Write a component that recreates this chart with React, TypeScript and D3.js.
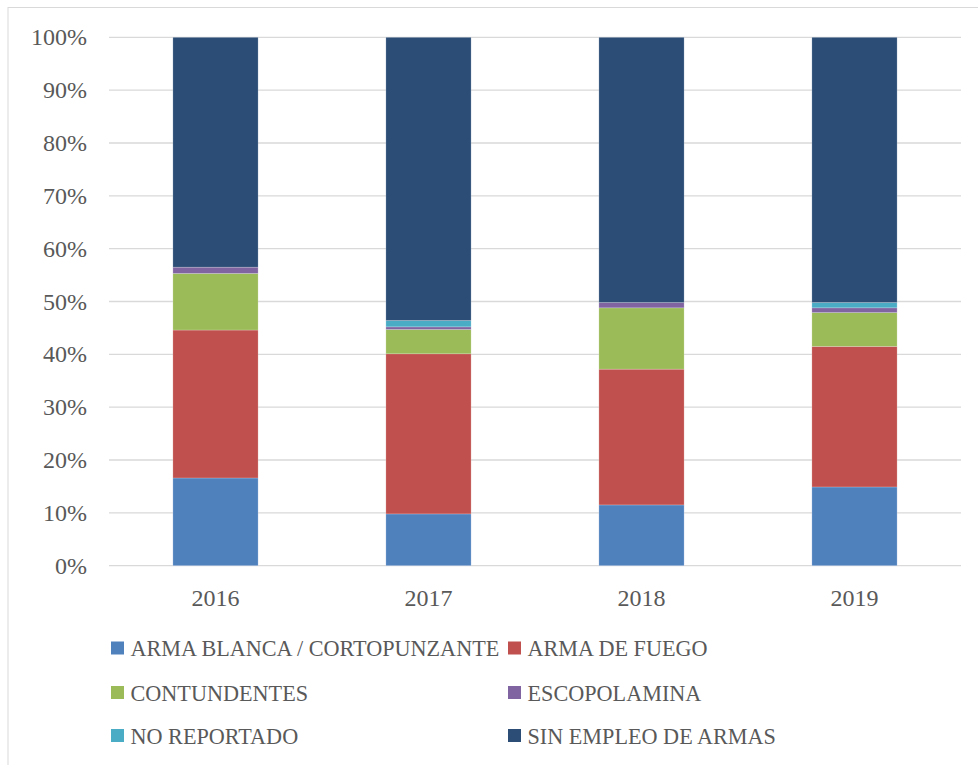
import React from "react";
import * as d3 from "d3";

const years = ["2016", "2017", "2018", "2019"];
const seriesNames = [
  "ARMA BLANCA / CORTOPUNZANTE",
  "ARMA DE FUEGO",
  "CONTUNDENTES",
  "ESCOPOLAMINA",
  "NO REPORTADO",
  "SIN EMPLEO DE ARMAS",
];
const armaBlanca = [16.6, 9.8, 11.5, 14.9];
const armaFuego = [28.0, 30.3, 25.7, 26.6];
const contundentes = [10.7, 4.6, 11.6, 6.4];
const escopolamina = [1.2, 0.5, 1.0, 0.9];
const noReportado = [0.0, 1.2, 0.0, 1.0];
const sinEmpleo = [43.5, 53.6, 50.2, 50.2];
const yTicks = [0, 10, 20, 30, 40, 50, 60, 70, 80, 90, 100];
const colors = ["#4F81BD", "#C0504D", "#9BBB59", "#8064A2", "#4BACC6", "#2C4D75"];

const W = 978;
const H = 765;
const FONT = "'Liberation Serif', 'Times New Roman', serif";
const TXT = "#595959";

export default function App() {
  const seriesValues = [armaBlanca, armaFuego, contundentes, escopolamina, noReportado, sinEmpleo];
  const rows = years.map((y, i) => {
    const r: any = { year: y };
    seriesNames.forEach((s, k) => (r[s] = seriesValues[k][i]));
    return r;
  });
  const stack = d3.stack<any>().keys(seriesNames).offset(d3.stackOffsetExpand);
  const stacked = stack(rows);

  const x = d3.scaleBand().domain(years).range([109, 961]).paddingInner(0.6).paddingOuter(0.3);
  const y = d3.scaleLinear().domain([0, 1]).range([565.7, 37.3]);

  const legendPos = [
    [111, 648],
    [508, 648],
    [111, 692.5],
    [508, 692.5],
    [111, 735.5],
    [508, 735.5],
  ];

  return (
    <svg
      width={W}
      height={H}
      style={{ position: "absolute", left: 0, top: 0, background: "#fff" }}
      fontFamily={FONT}
    >
      <rect x={8} y={7.5} width={W} height={H} fill="#fff" stroke="#D9D9D9" strokeWidth={1} />
      {yTicks.map((t) => (
        <g key={t}>
          <line x1={109} x2={961} y1={y(t / 100)} y2={y(t / 100)} stroke="#D9D9D9" strokeWidth={1.3} />
          <text
            x={87}
            y={y(t / 100)}
            textAnchor="end"
            dominantBaseline="central"
            fontSize={24}
            fill={TXT}
          >
            {t}%
          </text>
        </g>
      ))}
      {stacked.map((layer, k) => (
        <g key={layer.key} fill={colors[k]}>
          {layer.map((d, i) => {
            const h = y(d[0]) - y(d[1]);
            if (h <= 0) return null;
            return (
              <rect
                key={i}
                x={x(years[i])}
                y={y(d[1])}
                width={x.bandwidth()}
                height={h}
                stroke="#ffffff"
                strokeOpacity={0.35}
                strokeWidth={0.6}
              />
            );
          })}
        </g>
      ))}
      {years.map((yr) => (
        <text
          key={yr}
          x={(x(yr) as number) + x.bandwidth() / 2}
          y={598}
          textAnchor="middle"
          dominantBaseline="central"
          fontSize={24}
          fill={TXT}
        >
          {yr}
        </text>
      ))}
      {seriesNames.map((s, k) => (
        <g key={s}>
          <rect x={legendPos[k][0]} y={legendPos[k][1] - 6.5} width={13} height={13} fill={colors[k]} />
          <text
            transform={`translate(${legendPos[k][0] + 19.5},${legendPos[k][1]}) scale(0.925,1)`}
            x={0}
            y={0}
            dominantBaseline="central"
            fontSize={24}
            fill={TXT}
          >
            {s}
          </text>
        </g>
      ))}
    </svg>
  );
}
